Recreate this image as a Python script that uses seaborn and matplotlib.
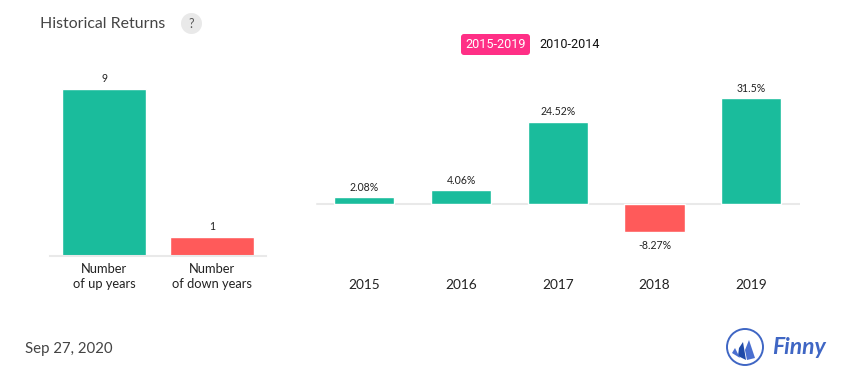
import matplotlib
matplotlib.use("Agg")
import matplotlib.pyplot as plt
import pandas as pd
import seaborn as sns
from matplotlib.patches import Circle, FancyBboxPatch, Polygon

categories = ["Number\nof up years", "Number\nof down years"]
counts = [9, 1]
years = ["2015", "2016", "2017", "2018", "2019"]
returns = [2.08, 4.06, 24.52, -8.27, 31.5]
return_labels = ["2.08%", "4.06%", "24.52%", "-8.27%", "31.5%"]
title = "Historical Returns"
date_text = "Sep 27, 2020"
GREEN = "#1abc9c"
RED = "#ff5a5a"
W, H = 855, 382

sns.set_theme(style="white")
plt.rcParams["font.family"] = ["Lato", "DejaVu Sans"]

fig = plt.figure(figsize=(W / 100, H / 100), dpi=100, facecolor="white")


def axes_px(x0, x1, ytop, ybot):
    return fig.add_axes([x0 / W, 1 - ybot / H, (x1 - x0) / W, (ybot - ytop) / H])


def clean(ax):
    for s in ax.spines.values():
        s.set_visible(False)
    ax.set_xlabel("")
    ax.set_ylabel("")
    ax.set_yticks([])
    ax.patch.set_alpha(0)
    ax.tick_params(axis="x", length=0)


# Left panel
ax1 = axes_px(50, 266, 60, 255.5)
df1 = pd.DataFrame({"cat": categories, "n": counts})
sns.barplot(data=df1, x="cat", y="n", hue="cat", palette=[GREEN, RED], legend=False,
            width=0.778, saturation=1, ax=ax1)
ax1.set_ylim(0, 195.5 / 18.45)
clean(ax1)
ax1.spines["bottom"].set_visible(True)
ax1.spines["bottom"].set_color("#e9e9e9")
ax1.spines["bottom"].set_linewidth(1.5)
ax1.tick_params(axis="x", pad=5.5, labelsize=9.3, labelcolor="#222222")
for label in ax1.get_xticklabels():
    label.set_linespacing(1.3)
for c, v in zip(categories, counts):
    ax1.annotate(str(v), (categories.index(c), v), xytext=(0, 3.8), textcoords="offset points",
                 ha="center", va="bottom", fontsize=7.6, color="#222222")

# Right panel
ax2 = axes_px(316, 799.5, 60, 260)
df2 = pd.DataFrame({"year": years, "ret": returns})
sns.barplot(data=df2, x="year", y="ret", hue="year",
            palette=[GREEN if v >= 0 else RED for v in returns], legend=False,
            width=0.622, saturation=1, ax=ax2)
ax2.set_ylim(-56 / 3.36, 144 / 3.36)
clean(ax2)
ax2.plot([-0.5 + 1 / 96.6, 4.5], [0, 0], color="#e9e9e9", lw=1.5, zorder=0.5)
ax2.set_xlim(-0.5, 4.5)
ax2.tick_params(axis="x", pad=13.5, labelsize=9.8, labelcolor="#222222")
for i, (v, t) in enumerate(zip(returns, return_labels)):
    off = (0, 3.2) if v >= 0 else (0, -6)
    ax2.annotate(t, (i, v), xytext=off, textcoords="offset points", ha="center",
                 va="bottom" if v >= 0 else "top", fontsize=7.6, color="#222222")

# Page furniture in pixel coordinates
ov = fig.add_axes([0, 0, 1, 1], zorder=5)
ov.set_xlim(0, W)
ov.set_ylim(H, 0)
ov.axis("off")
ov.patch.set_alpha(0)
ov.text(40, 23.5, title, fontsize=11.45, color="#444444", va="center", ha="left")
ov.add_patch(Circle((191.5, 23.5), 10.5, fc="#e9e9e9", ec="none"))
ov.text(191.5, 24, "?", fontsize=9, color="#555555", ha="center", va="center")
ov.add_patch(FancyBboxPatch((461, 34), 69, 21, boxstyle="round,pad=0,rounding_size=3",
                            fc="#ff2f86", ec="none"))
ov.text(495.5, 45, "2015-2019", fontsize=9.1, color="white", ha="center", va="center",
        family=["Roboto", "DejaVu Sans"])
ov.text(570, 45, "2010-2014", fontsize=9.1, color="#111111", ha="center", va="center",
        family=["Roboto", "DejaVu Sans"])
ov.text(25, 348.5, date_text, fontsize=10.8, color="#444444", va="center", ha="left")

# Logo
ov.add_patch(Circle((745, 347), 18, fc="white", ec="#3f66c4", lw=1.4))
ov.add_patch(Polygon([[749, 340], [755, 358], [747, 360], [745, 350]], fc="#4a6fd0", ec="none"))
ov.add_patch(Polygon([[743, 342], [746, 360], [738, 356], [739, 348]], fc="#1f4aa8", ec="none"))
ov.add_patch(Polygon([[735, 348], [740, 358], [732, 353]], fc="#4a6fd0", ec="none"))
ov.text(772, 347, "Finny", fontsize=16.5, color="#3f66c4", style="italic", weight="bold",
        va="center", ha="left", family=["Lato", "DejaVu Sans"])

fig.savefig("out.png", dpi=100, facecolor="white")
